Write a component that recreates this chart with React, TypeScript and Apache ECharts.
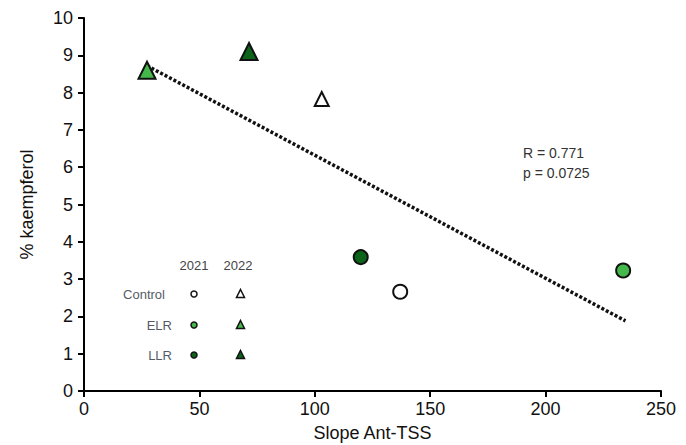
import React, { useEffect, useRef } from "react";
import * as echarts from "echarts";

const controlCircle: number[][] = [[137, 2.66]];
const elrCircle: number[][] = [[233.6, 3.23]];
const llrCircle: number[][] = [[119.9, 3.59]];
const controlTriangle: number[][] = [[103, 7.83]];
const elrTriangle: number[][] = [[27.3, 8.6]];
const llrTriangle: number[][] = [[71.5, 9.1]];
const trendLine: number[][] = [[27.3, 8.72], [234.6, 1.88]];
const statsText = ["R = 0.771", "p = 0.0725"];
const legendYears = ["2021", "2022"];
const legendRows = ["Control", "ELR", "LLR"];

const LIGHT = "#45b84c";
const DARK = "#0b6419";
const WHITE = "#ffffff";
const FONT = "Liberation Sans, Arial, sans-serif";

export default function App() {
  const ref = useRef<HTMLDivElement>(null);
  useEffect(() => {
    if (!ref.current) return;
    const chart = echarts.init(ref.current, undefined, { renderer: "svg" });
    const scatter = (data: number[][], symbol: string, color: string, size: number) => ({
      type: "scatter",
      data,
      symbol,
      symbolSize: size,
      itemStyle: { color, borderColor: "#111", borderWidth: 2, opacity: 1 },
      z: 5,
    });
    const fills = [WHITE, LIGHT, DARK];
    const rowY = [294, 325, 355];
    const legendGraphics: any[] = [];
    legendYears.forEach((y, i) => {
      legendGraphics.push({
        type: "text",
        x: i === 0 ? 194 : 238,
        y: 265,
        style: { text: y, font: `13px ${FONT}`, fill: "#444", align: "center", verticalAlign: "middle" },
      });
    });
    legendRows.forEach((r, i) => {
      legendGraphics.push({
        type: "text",
        x: i === 0 ? 165 : 172,
        y: rowY[i],
        style: { text: r, font: `13px ${FONT}`, fill: "#555b66", align: "right", verticalAlign: "middle" },
      });
      legendGraphics.push({
        type: "circle",
        shape: { cx: 194, cy: rowY[i], r: 3 },
        style: { fill: fills[i], stroke: "#111", lineWidth: 1.5 },
      });
      legendGraphics.push({
        type: "polygon",
        shape: { points: [[240.5, rowY[i] - 4.5], [244.5, rowY[i] + 3.5], [236.5, rowY[i] + 3.5]] },
        style: { fill: fills[i], stroke: "#111", lineWidth: 1.5 },
      });
    });
    statsText.forEach((t, i) => {
      legendGraphics.push({
        type: "text",
        x: 523,
        y: 153 + i * 20,
        style: { text: t, font: `14px ${FONT}`, fill: "#333", align: "left", verticalAlign: "middle" },
      });
    });

    chart.setOption({
      animation: false,
      grid: { left: 84, right: 25, top: 18, bottom: 54, containLabel: false, outerBoundsMode: "none" },
      xAxis: {
        type: "value",
        min: 0,
        max: 250,
        interval: 50,
        name: "Slope Ant-TSS",
        nameLocation: "middle",
        nameGap: 33,
        nameTextStyle: { fontFamily: FONT, fontSize: 18, color: "#111" },
        axisLine: { show: true, lineStyle: { color: "#000", width: 2 } },
        axisTick: { show: true, length: 6, lineStyle: { color: "#000", width: 2 } },
        axisLabel: { fontFamily: FONT, fontSize: 18, color: "#111", margin: 9 },
        splitLine: { show: false },
      },
      yAxis: {
        type: "value",
        min: 0,
        max: 10,
        interval: 1,
        name: "% kaempferol",
        nameLocation: "middle",
        nameGap: 48,
        nameTextStyle: { fontFamily: FONT, fontSize: 18, color: "#111" },
        axisLine: { show: true, lineStyle: { color: "#000", width: 2 } },
        axisTick: { show: true, length: 6, lineStyle: { color: "#000", width: 2 } },
        axisLabel: { fontFamily: FONT, fontSize: 18, color: "#111", margin: 11 },
        splitLine: { show: false },
      },
      graphic: legendGraphics,
      series: [
        {
          type: "line",
          data: trendLine,
          symbol: "none",
          lineStyle: { color: "#111", width: 3.5, type: [3, 2] },
          z: 3,
        },
        scatter(controlCircle, "circle", WHITE, 14),
        scatter(elrCircle, "circle", LIGHT, 14),
        scatter(llrCircle, "circle", DARK, 14),
        scatter(controlTriangle, "triangle", WHITE, 14),
        scatter(elrTriangle, "triangle", LIGHT, 17),
        scatter(llrTriangle, "triangle", DARK, 17),
      ],
    });
    return () => chart.dispose();
  }, []);
  return (
    <div
      ref={ref}
      style={{ position: "fixed", left: 0, top: 0, width: 686, height: 445, background: "#fff" }}
    />
  );
}
